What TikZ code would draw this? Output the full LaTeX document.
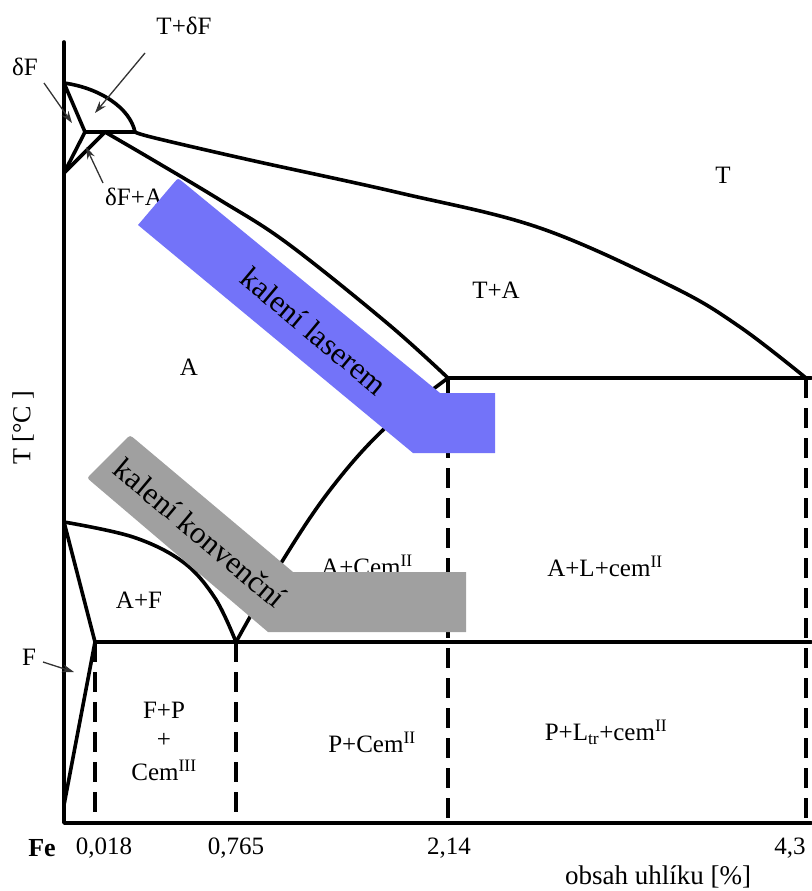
\documentclass[tikz,border=0pt]{standalone}
\usepackage{fontspec}
\setmainfont{Liberation Serif}
\usetikzlibrary{arrows.meta}
\definecolor{laserblue}{RGB}{115,115,249}
\definecolor{bandgray}{RGB}{160,160,160}
\begin{document}
\begin{tikzpicture}[x=1pt,y=-1pt,
  phase/.style={line width=3.6pt, line cap=round, line join=round},
  dashline/.style={line width=3.6pt, dash pattern=on 20pt off 10pt},
  pointer/.style={line width=1.3pt, draw=black!80, -{Stealth[length=12pt,width=8pt]}},
  lbl/.style={font=\fontsize{25}{30}\selectfont, inner sep=0pt, align=center},
  axlbl/.style={font=\fontsize{26}{30}\selectfont, inner sep=0pt},
  bandtxt/.style={font=\fontsize{31}{36}\selectfont, inner sep=0pt, rotate=-40}]
\useasboundingbox (0,0) rectangle (811,891);

% key points
\coordinate (Ytop) at (64,42);
\coordinate (O) at (64,823);
\coordinate (Xend) at (811,823);
\coordinate (N) at (64,83);
\coordinate (H) at (85,132);
\coordinate (J) at (105,132);
\coordinate (B) at (135,132);
\coordinate (Nd) at (64,173);
\coordinate (E) at (448,378);
\coordinate (C) at (806,378);
\coordinate (Cr) at (811,378);
\coordinate (G) at (64,522);
\coordinate (P) at (95,642);
\coordinate (S) at (236,642);
\coordinate (Pr) at (811,642);
\coordinate (Q) at (64,805);
\coordinate (Pb) at (95,823);
\coordinate (Sb) at (236,823);
\coordinate (Eb) at (448,823);
\coordinate (Cb) at (806,823);

% axes
\draw[phase] (Ytop) -- (O) -- (Xend);

% delta-ferrite corner
\draw[phase] (N) -- (H) -- (Nd);
\draw[phase] (J) -- (Nd);
\draw[phase] (H) -- (B);
\draw[phase] (N) .. controls (100,88) and (130,108) .. (B);

% liquidus
\draw[phase] plot[smooth, tension=0.6] coordinates {(135,132) (155,138) (250,160) (400,193) (540,228) (673,287) (740,327) (806,378)};
% solidus
\draw[phase] plot[smooth, tension=0.6] coordinates {(105,132) (153,160) (220,200) (287,243) (387,323) (448,378)};
% Acm
\draw[phase] plot[smooth, tension=0.6] coordinates {(236,642) (283,560) (330,490) (383,430) (448,378)};
% A3
\draw[phase] plot[smooth, tension=0.6] coordinates {(64,522) (133,537) (183,562) (215,598) (236,642)};

% straight boundaries
\draw[phase] (G) -- (P) -- (Q);
\draw[phase] (P) -- (Pr);
\draw[phase] (E) -- (Cr);

% dashed verticals
\draw[dashline] (P) -- (Pb);
\draw[dashline] (S) -- (Sb);
\draw[dashline] (E) -- (Eb);
\draw[dashline] (C) -- (Cb);

% region labels
\node[lbl] (lTdF) at (184,26) {T+δF};
\node[lbl] (ldF) at (25,67) {δF};
\node[lbl] (ldFA) at (134,197) {δF+A};
\node[lbl] (lT) at (723,175) {T};
\node[lbl] (lTA) at (496,290) {T+A};
\node[lbl] (lA) at (189,367) {A};
\node[lbl] (lAF) at (139,600) {A+F};
\node[lbl] (lACem) at (367,565) {A+Cem\textsuperscript{II}};
\node[lbl] (lALcem) at (605,566) {A+L+cem\textsuperscript{II}};
\node[lbl] (lFP) at (164,710) {F+P};
\node[lbl] (lplus) at (164,740) {+};
\node[lbl] (lCem3) at (164,770) {Cem\textsuperscript{III}};
\node[lbl] (lPCem) at (372,742) {P+Cem\textsuperscript{II}};
\node[lbl] (lPLcem) at (606,732) {P+L\textsubscript{tr}+cem\textsuperscript{II}};
\node[lbl] (lF) at (29,657) {F};

% pointer arrows
\coordinate (aTdFs) at (145,53);
\coordinate (aTdFe) at (95,113);
\coordinate (adFs) at (44,83);
\coordinate (adFe) at (72,123);
\coordinate (adFAs) at (103,183);
\coordinate (adFAe) at (86,147);
\coordinate (aFs) at (43,662);
\coordinate (aFe) at (74,672);
\draw[pointer] (aTdFs) -- (aTdFe);
\draw[pointer] (adFs) -- (adFe);
\draw[pointer] (adFAs) -- (adFAe);
\draw[pointer] (aFs) -- (aFe);

% axis labels
\node[axlbl] (lFe) at (42,848) {\textbf{Fe}};
\node[lbl] (t1) at (104,848) {0,018};
\node[lbl] (t2) at (236,848) {0,765};
\node[lbl] (t3) at (449,848) {2,14};
\node[lbl] (t4) at (790,848) {4,3};
\node[axlbl, font=\fontsize{27}{30}\selectfont] (lx) at (658,877) {obsah uhlíku [\%]};
\node[axlbl, rotate=90] (ly) at (23,428) {T [°C ]};

% hardening bands
\fill[laserblue] (138,225) -- (174.1,182.6) .. controls (178,178) .. (182.6,181.8)
  -- (440,393) -- (495,393) -- (495,453) -- (413,453) -- cycle;
\fill[bandgray] (91.6,481.9) .. controls (87,478) .. (91.2,473.8)
  -- (125.1,439.9) .. controls (130,435) .. (135.4,439.5)
  -- (293,572) -- (466,572) -- (466,632) -- (268,632) -- cycle;
\node[bandtxt] (tlaser) at (314,331) {kalení laserem};
\node[bandtxt] (tkonv) at (200,533) {kalení konvenční};
\end{tikzpicture}
\end{document}
